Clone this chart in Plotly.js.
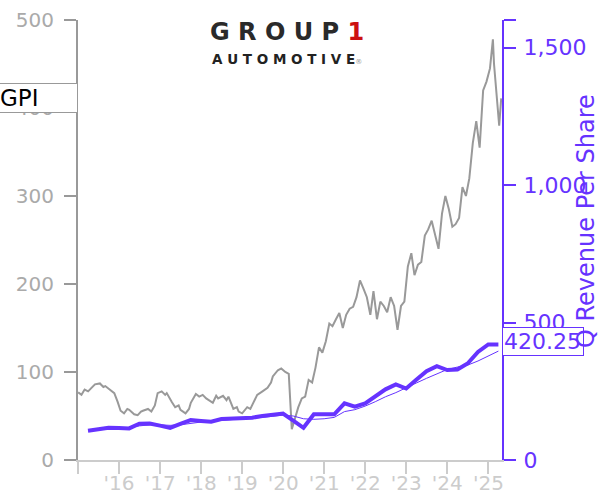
<!DOCTYPE html>
<html>
<head>
<meta charset="utf-8">
<script src="https://cdn.plot.ly/plotly-3.0.1.min.js"></script>
<style>html,body{margin:0;padding:0;background:#fff;}#chart{width:600px;height:500px;}</style>
</head>
<body>
<div id="chart"></div>
<script>
// GPI share price
const priceDates = ["2015-01-02","2015-02-01","2015-03-01","2015-04-01","2015-05-01","2015-06-01","2015-07-15","2015-08-15","2015-09-01","2015-10-15","2015-11-20","2015-12-20","2016-01-15","2016-02-15","2016-03-15","2016-04-01","2016-05-15","2016-06-15","2016-07-15","2016-08-01","2016-09-15","2016-10-15","2016-11-15","2016-12-10","2017-01-15","2017-02-15","2017-03-01","2017-04-15","2017-05-15","2017-06-15","2017-07-01","2017-08-15","2017-09-15","2017-10-01","2017-11-15","2017-12-15","2018-01-15","2018-02-15","2018-03-01","2018-04-15","2018-05-15","2018-06-01","2018-07-15","2018-08-15","2018-09-01","2018-10-15","2018-11-15","2018-12-01","2019-01-01","2019-02-15","2019-03-15","2019-04-01","2019-05-15","2019-07-01","2019-08-15","2019-09-15","2019-10-01","2019-11-15","2019-12-15","2020-01-20","2020-02-20","2020-03-18","2020-04-15","2020-05-15","2020-06-15","2020-07-15","2020-08-15","2020-09-15","2020-10-15","2020-11-15","2020-12-15","2021-01-15","2021-02-15","2021-03-15","2021-04-15","2021-05-15","2021-06-15","2021-07-15","2021-08-15","2021-09-15","2021-10-15","2021-11-15","2021-12-15","2022-01-15","2022-02-15","2022-03-15","2022-04-15","2022-05-15","2022-06-15","2022-07-15","2022-08-15","2022-09-15","2022-10-15","2022-11-15","2022-12-15","2023-01-15","2023-02-15","2023-03-15","2023-04-15","2023-05-15","2023-06-15","2023-07-15","2023-08-15","2023-09-15","2023-10-15","2023-11-15","2023-12-15","2024-01-15","2024-02-15","2024-03-15","2024-04-15","2024-05-15","2024-06-15","2024-07-15","2024-08-15","2024-09-15","2024-10-15","2024-11-15","2024-12-15","2025-01-15","2025-02-10","2025-02-20","2025-03-15","2025-04-07","2025-04-25"];
const priceValues = [77,74,80,78,82,86,87,83,84,80,76,66,56,53,58,57,52,51,55,56,58,55,62,76,78,74,76,66,60,62,57,53,58,65,75,72,74,70,69,65,73,70,73,68,72,58,60,55,53,60,58,62,74,78,82,88,95,102,104,100,98,35,48,60,70,72,91,88,105,128,122,135,155,152,160,167,150,165,172,174,185,204,195,185,165,192,160,180,175,168,185,175,148,175,180,220,235,210,222,225,255,262,272,255,240,280,300,285,265,268,275,310,300,320,360,385,355,420,430,445,478,450,410,380,411];

// Quarterly revenue per share and its smoothed companion
const rpsDates = ["2015-03-31","2015-06-30","2015-09-30","2015-12-31","2016-03-31","2016-06-30","2016-09-30","2016-12-31","2017-03-31","2017-06-30","2017-09-30","2017-12-31","2018-03-31","2018-06-30","2018-09-30","2018-12-31","2019-03-31","2019-06-30","2019-09-30","2019-12-31","2020-03-31","2020-06-30","2020-09-30","2020-12-31","2021-03-31","2021-06-30","2021-09-30","2021-12-31","2022-03-31","2022-06-30","2022-09-30","2022-12-31","2023-03-31","2023-06-30","2023-09-30","2023-12-31","2024-03-31","2024-06-30","2024-09-30","2024-12-31","2025-03-31"];
const rpsValues = [106,113,117,116,115,132,133,125,117,131,145,142,139,149,151,153,154,160,166,169,143,117,166,166,166,206,194,206,231,257,275,260,292,323,341,327,329,351,393,420,420.25];
const rpsAvgValues = [106,110,113,115,118,124,128,128,126,128,134,138,141,145,147,150,152,155,159,163,160,150,148,150,155,176,183,196,212,230,245,264,280,297,312,329,338,345,360,378,396];

const tickYears = ["2015-01-01","2016-01-01","2017-01-01","2018-01-01","2019-01-01","2020-01-01","2021-01-01","2022-01-01","2023-01-01","2024-01-01","2025-01-01"];
const tickLabels = ["","'16","'17","'18","'19","'20","'21","'22","'23","'24","'25"];

const purple = "#6633ff";

const traces = [
  {x: priceDates, y: priceValues, type: "scatter", mode: "lines", line: {color: "#999999", width: 2}, yaxis: "y", hoverinfo: "skip"},
  {x: rpsDates, y: rpsAvgValues, type: "scatter", mode: "lines", line: {color: purple, width: 1}, yaxis: "y2", hoverinfo: "skip"},
  {x: rpsDates, y: rpsValues, type: "scatter", mode: "lines", line: {color: purple, width: 4}, yaxis: "y2", hoverinfo: "skip"}
];

const layout = {
  width: 600, height: 500,
  margin: {l: 78, r: 98, t: 20, b: 40},
  paper_bgcolor: "#fff", plot_bgcolor: "#fff",
  showlegend: false,
  font: {family: "DejaVu Sans", size: 20},
  xaxis: {
    type: "date", range: ["2015-01-01", "2025-05-02"],
    tickvals: tickYears, ticktext: tickLabels,
    ticks: "outside", ticklen: 12, tickwidth: 2, tickcolor: "#cccccc",
    showline: true, linecolor: "#cccccc", linewidth: 2,
    showgrid: false, zeroline: false, ticklabelstandoff: -8,
    tickfont: {size: 20, color: "#cccccc"}
  },
  yaxis: {
    range: [0, 500], tickvals: [0,100,200,300,400,500],
    ticks: "outside", ticklen: 12, tickwidth: 2, tickcolor: "#999999",
    showline: true, linecolor: "#999999", linewidth: 2,
    showgrid: false, zeroline: false, ticklabelstandoff: 6,
    tickfont: {size: 20, color: "#aaaaaa"}
  },
  yaxis2: {
    overlaying: "y", side: "right", range: [0, 1600],
    tickvals: [0,500,1000,1500,1600], ticktext: ["0","500","1,000","1,500",""],
    ticks: "outside", ticklen: 12, tickwidth: 2, tickcolor: purple,
    showline: true, linecolor: purple, linewidth: 2,
    showgrid: false, zeroline: false, ticklabelstandoff: 3,
    tickfont: {size: 22, color: purple}
  },
  annotations: [
    {xref: "paper", yref: "paper", x: 0.493, y: 1.008, xanchor: "center", yanchor: "top", showarrow: false,
     text: "<b>G R O U P <span style='color:#cc1111'>1</span></b>", font: {family: "DejaVu Sans", size: 24, color: "#2a2a2a"}},
    {xref: "paper", yref: "paper", x: 0.493, y: 0.935, xanchor: "center", yanchor: "top", showarrow: false,
     text: "<b>A U T O M O T I V E</b><span style='font-size:7px;color:#999'>®</span>", font: {family: "DejaVu Sans", size: 13.5, color: "#222222"}},
    {xref: "paper", yref: "y", x: 0, y: priceValues[priceValues.length-1], xanchor: "right", yanchor: "middle", showarrow: false,
     text: "GPI", width: 76, align: "left", bgcolor: "#ffffff", bordercolor: "#999999", borderwidth: 1, borderpad: 1,
     font: {family: "DejaVu Sans", size: 23, color: "#000000"}},
    {xref: "paper", yref: "y2", x: 1, y: rpsValues[rpsValues.length-1], xanchor: "left", yanchor: "middle", showarrow: false,
     yshift: 3, text: "420.25", width: 78, align: "left", bgcolor: "#ffffff", bordercolor: purple, borderwidth: 1, borderpad: 1,
     font: {family: "DejaVu Sans", size: 22, color: purple}},
    {xref: "paper", yref: "paper", x: 1.198, y: 0.543, xanchor: "center", yanchor: "middle", showarrow: false,
     textangle: -90, text: "Q Revenue Per Share", font: {family: "DejaVu Sans", size: 24, color: purple}}
  ]
};

Plotly.newPlot("chart", traces, layout, {staticPlot: true, displayModeBar: false});
</script>
</body>
</html>
